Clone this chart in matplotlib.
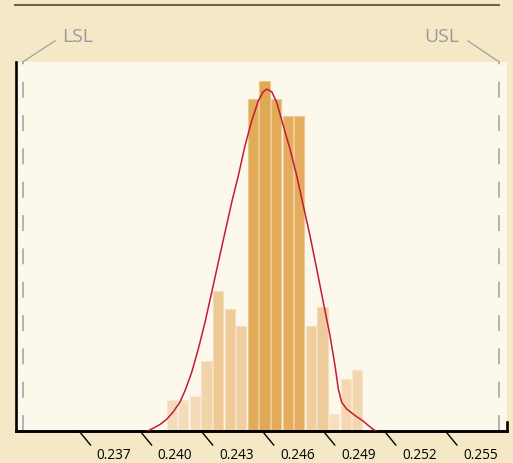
import numpy as np
import matplotlib
import matplotlib.pyplot as plt
from matplotlib.colors import LinearSegmentedColormap
from matplotlib.lines import Line2D

plt.rcParams['font.family'] = ['Open Sans', 'DejaVu Sans']
plt.rcParams['lines.scale_dashes'] = False

# histogram: first bin edge, bin width, counts
bin_start = 0.241275
bin_width = 0.0005695
counts = [1.8, 1.8, 2.0, 4.0, 8.0, 7.0, 6.0, 19.0, 20.0, 19.0, 18.0, 18.0, 6.0, 7.1, 1.0, 3.0, 3.5]

# fitted curve
curve_x = [0.240376, 0.240572, 0.240980, 0.241324, 0.241634, 0.241963, 0.242209,
           0.242538, 0.242862, 0.243192, 0.243521, 0.243845, 0.244174, 0.244504,
           0.244828, 0.245157, 0.245487, 0.245811, 0.246057, 0.246224, 0.246470,
           0.246715, 0.247039, 0.247369, 0.247698, 0.248022, 0.248351, 0.248681,
           0.249005, 0.249334, 0.249580, 0.249742, 0.249909, 0.250155, 0.250563,
           0.250956, 0.251383, 0.251595]
curve_y = [0.0, 0.114, 0.371, 0.686, 1.10, 1.66, 2.30,
           3.354, 4.686, 6.211, 7.926, 9.640, 11.354, 13.069,
           14.589, 16.303, 17.731, 18.874, 19.389, 19.543, 19.389,
           18.783, 17.446, 16.114, 14.589, 12.874, 11.160, 9.257,
           7.354, 5.446, 3.731, 2.400, 1.640, 1.257, 0.886,
           0.571, 0.154, 0.0]

lsl = 0.23423
usl = 0.25765
ticks = [0.237, 0.240, 0.243, 0.246, 0.249, 0.252, 0.255]

bg = '#F5E8C7'
fig = plt.figure(figsize=(5.13, 4.64), dpi=100, facecolor=bg)
ax = fig.add_axes([16.3 / 513, 32 / 464, (507 - 16.3) / 513, 369 / 464])
ax.set_facecolor('#FCF8EC')

cmap = LinearSegmentedColormap.from_list('bars', ['#F7E2C6', '#E1A853'])
hmax = max(counts)
lefts = bin_start + bin_width * np.arange(len(counts))
for left, c in zip(lefts, counts):
    col = np.array(cmap((c / hmax) ** 0.9)[:3])
    edge = col + (1 - col) * 0.35
    ax.bar(left + bin_width / 2, c, width=bin_width * 0.88, color=col,
           edgecolor=edge, linewidth=0.8, zorder=2)

ax.plot(curve_x, curve_y, color='#C41A3B', lw=1.1, zorder=3,
        solid_joinstyle='round')

# spec limits
for v in (lsl, usl):
    ax.plot([v, v], [0, 1], transform=ax.get_xaxis_transform(), color='#A0A0A0',
            lw=1.1, dashes=(11.5, 12.5), clip_on=False, zorder=1)
ax.annotate('', xy=(lsl, 1), xycoords=('data', 'axes fraction'), xytext=(23.5, 15.3),
            textcoords='offset points',
            arrowprops=dict(arrowstyle='-', color='#A0A0A0', lw=0.9, shrinkA=0, shrinkB=0))
ax.annotate('', xy=(usl, 1), xycoords=('data', 'axes fraction'), xytext=(-22.8, 15.3),
            textcoords='offset points',
            arrowprops=dict(arrowstyle='-', color='#A0A0A0', lw=0.9, shrinkA=0, shrinkB=0))
ax.annotate('LSL', xy=(lsl, 1), xycoords=('data', 'axes fraction'), xytext=(28.3, 15.3),
            textcoords='offset points', ha='left', va='baseline', fontsize=14, color='#9A9A9A')
ax.annotate('USL', xy=(usl, 1), xycoords=('data', 'axes fraction'), xytext=(-29, 15.3),
            textcoords='offset points', ha='right', va='baseline', fontsize=14, color='#9A9A9A')

# diagonal ticks with labels
for t in ticks:
    ax.annotate('', xy=(t, 0), xycoords=('data', 'axes fraction'), xytext=(8.4, -10.2),
                textcoords='offset points',
                arrowprops=dict(arrowstyle='-', color='black', lw=1.0, shrinkA=0, shrinkB=0),
                annotation_clip=False)
    ax.annotate(f'{t:.3f}', xy=(t, 0), xycoords=('data', 'axes fraction'), xytext=(12.8, -19.4),
                textcoords='offset points', ha='left', va='baseline', fontsize=9.8, color='black',
                annotation_clip=False)

ax.set_xlim(0.23392, 0.25803)
ax.set_ylim(0, 21.09)
ax.set_xticks([])
ax.set_yticks([])
ax.spines['top'].set_visible(False)
ax.spines['left'].set_linewidth(1.9)
ax.spines['bottom'].set_linewidth(2.1)
ax.spines['right'].set_linewidth(1.9)
ax.spines['right'].set_bounds(0, 0.5)

fig.add_artist(Line2D([15.3 / 513, 499.3 / 513], [1 - 5.7 / 464, 1 - 5.7 / 464],
                      transform=fig.transFigure, color='#6B6452', lw=1.5))

fig.savefig('out.png', dpi=100, facecolor=bg)
